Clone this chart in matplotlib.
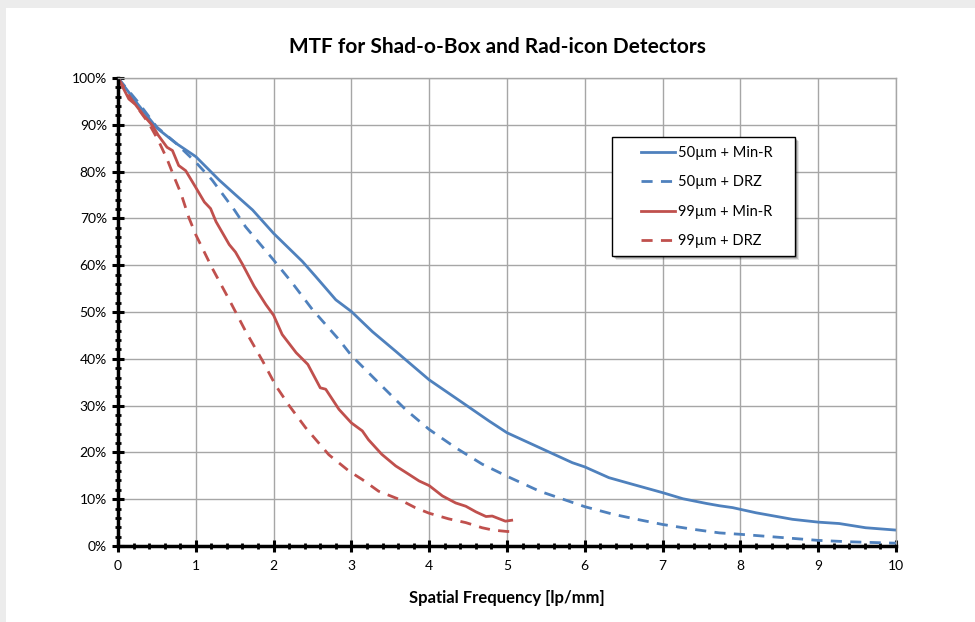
import matplotlib
matplotlib.use('Agg')
import matplotlib.pyplot as plt
from matplotlib.ticker import MultipleLocator, PercentFormatter
from matplotlib.patches import Rectangle

plt.rcParams['font.family'] = ['Lato', 'DejaVu Sans']

# --- Data (MTF in %) ---
x_50_minr = [0, 0.25, 0.5, 0.75, 1.0, 1.3, 1.5, 1.73, 2.0, 2.37, 2.54, 2.8, 3.0,
             3.27, 3.57, 4.0, 4.43, 4.77, 5.0, 5.42, 5.84, 6.0, 6.31, 6.61, 7.0,
             7.26, 7.56, 7.73, 7.9, 8.2, 8.67, 9.0, 9.27, 9.61, 10.0]
y_50_minr = [100, 94.5, 89.3, 86.0, 83.2, 78.2, 75.2, 71.8, 66.8, 60.8, 57.6, 52.6, 50.1,
             45.8, 41.6, 35.5, 30.6, 26.7, 24.2, 21.0, 17.8, 16.9, 14.6, 13.2, 11.4,
             10.1, 9.1, 8.6, 8.2, 7.1, 5.7, 5.1, 4.8, 3.9, 3.4]

x_50_drz = [0, 0.25, 0.5, 0.75, 1.0, 1.21, 1.5, 1.64, 2.0, 2.24, 2.5, 2.84, 3.0,
            3.36, 3.7, 4.0, 4.34, 4.68, 5.0, 5.42, 5.72, 6.0, 6.36, 6.7, 7.0,
            7.38, 7.73, 8.0, 8.54, 9.0, 9.4, 10.0]
y_50_drz = [100, 95.0, 89.5, 86.0, 82.0, 78.2, 71.7, 68.2, 61.1, 56.2, 50.5, 44.1, 40.7,
            34.7, 29.1, 24.9, 21.0, 17.5, 14.9, 11.7, 10.0, 8.4, 6.8, 5.6, 4.6,
            3.6, 2.8, 2.5, 1.8, 1.2, 0.9, 0.6]

x_99_minr = [0, 0.14, 0.22, 0.33, 0.44, 0.52, 0.63, 0.7, 0.78, 0.87, 1.0, 1.11, 1.19,
             1.26, 1.43, 1.51, 1.6, 1.75, 1.9, 2.0, 2.11, 2.29, 2.44, 2.6, 2.67, 2.84,
             3.0, 3.14, 3.22, 3.39, 3.57, 3.74, 3.87, 4.0, 4.17, 4.34, 4.47, 4.6,
             4.73, 4.81, 4.98, 5.06]
y_99_minr = [100, 95.5, 94.4, 92.0, 89.9, 87.7, 85.2, 84.5, 81.3, 80.2, 76.6, 73.5, 72.1,
             69.3, 64.4, 62.8, 60.2, 55.5, 51.6, 49.3, 45.2, 41.3, 38.8, 33.8, 33.5, 29.2,
             26.3, 24.6, 22.7, 19.6, 17.1, 15.3, 13.9, 12.9, 10.7, 9.2, 8.5, 7.3,
             6.3, 6.4, 5.3, 5.5]

x_99_drz = [0, 0.15, 0.3, 0.4, 0.52, 0.63, 0.74, 0.81, 0.91, 1.0, 1.21,
            1.43, 1.64, 1.86, 2.03, 2.2, 2.41, 2.71, 2.97, 3.14, 3.35, 3.61,
            3.82, 4.0, 4.25, 4.47, 4.68, 4.82, 5.0, 5.06]
y_99_drz = [100, 96.0, 92.5, 90.2, 86.6, 82.7, 78.1, 75.3, 70.2, 66.5, 59.4,
            52.6, 45.9, 39.5, 34.2, 30.0, 25.3, 19.5, 16.0, 14.2, 11.7, 10.0,
            8.2, 7.0, 5.8, 5.0, 3.9, 3.4, 3.1, 3.1]

labels = ['50µm + Min-R', '50µm + DRZ', '99µm + Min-R', '99µm + DRZ']

BLUE = '#4F81BD'
RED = '#C0504D'

fig = plt.figure(figsize=(9.75, 6.22), dpi=100)
fig.patch.set_facecolor('#ececec')
# white chart area with the grey shadow strip at top/left
fig.add_artist(Rectangle((6 / 975, 0), 1, 1 - 8 / 622, transform=fig.transFigure,
                         facecolor='white', edgecolor='none', zorder=0))

ax = fig.add_axes([118 / 975, 1 - 546 / 622, 778 / 975, 468 / 622])
ax.set_facecolor('white')

ax.plot(x_50_minr, y_50_minr, color=BLUE, lw=2, label=labels[0], solid_joinstyle='round')
ax.plot(x_50_drz, y_50_drz, color=BLUE, lw=2, dashes=(4, 3), label=labels[1])
ax.plot(x_99_minr, y_99_minr, color=RED, lw=2, label=labels[2], solid_joinstyle='round')
ax.plot(x_99_drz, y_99_drz, color=RED, lw=2, dashes=(4, 3), label=labels[3])

ax.set_xlim(0, 10)
ax.set_ylim(0, 100)
ax.xaxis.set_major_locator(MultipleLocator(1))
ax.xaxis.set_minor_locator(MultipleLocator(0.2))
ax.yaxis.set_major_locator(MultipleLocator(10))
ax.yaxis.set_minor_locator(MultipleLocator(2))
ax.yaxis.set_major_formatter(PercentFormatter(decimals=0))

ax.grid(True, which='major', color='#a6a6a6', lw=1)
ax.set_axisbelow(True)

for side in ['left', 'bottom']:
    ax.spines[side].set_color('black')
    ax.spines[side].set_linewidth(2.5)
for side in ['top', 'right']:
    ax.spines[side].set_color('#a6a6a6')
    ax.spines[side].set_linewidth(1)

ax.tick_params(which='major', direction='inout', length=8, width=2.2, color='black',
               labelsize=10, pad=4, top=False, right=False)
ax.tick_params(which='minor', direction='inout', length=5, width=2, color='black',
               top=False, right=False)
ax.tick_params(axis='x', which='major', pad=6)

fig.text(497.5 / 975, 1 - 47 / 622, 'MTF for Shad-o-Box and Rad-icon Detectors',
         fontsize=15, fontweight='bold', ha='center', va='center')
ax.set_xlabel('Spatial Frequency [lp/mm]', fontsize=12, fontweight='bold', labelpad=13)

# legend frame with soft shadow (Excel style)
lx0, lx1 = (612 - 118) / 778, (795 - 118) / 778
ly0, ly1 = (546 - 256) / 468, (546 - 137) / 468
for off, alpha in [(4, 0.10), (3, 0.15), (2, 0.22)]:
    ax.add_patch(Rectangle((lx0 + off / 778, ly0 - off / 468), lx1 - lx0, ly1 - ly0,
                           transform=ax.transAxes, facecolor='black', alpha=alpha,
                           edgecolor='none', zorder=4))
ax.add_patch(Rectangle((lx0, ly0), lx1 - lx0, ly1 - ly0, transform=ax.transAxes,
                       facecolor='white', edgecolor='black', lw=1, zorder=5))

leg = ax.legend(loc='upper left', bbox_to_anchor=((641 - 118) / 778, (546 - 146) / 468),
                fontsize=10.5, frameon=False, handlelength=2.35, handletextpad=0.2,
                labelspacing=1.05, borderpad=0, borderaxespad=0)
leg.set_zorder(6)

fig.savefig('out.png', dpi=100, facecolor=fig.get_facecolor())
